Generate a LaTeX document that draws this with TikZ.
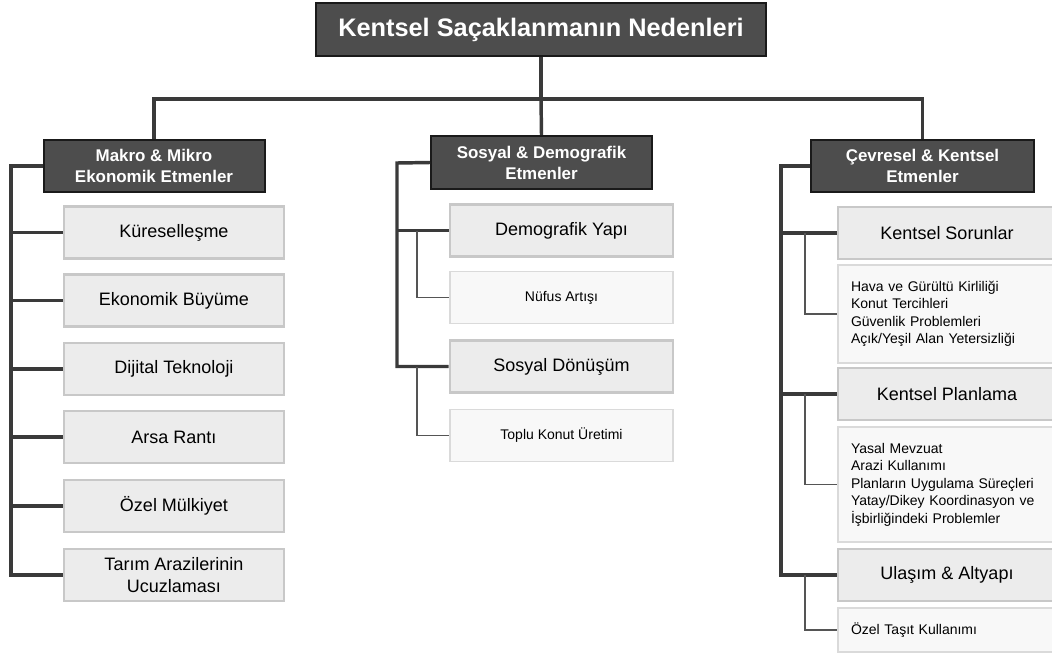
\documentclass[tikz,border=0pt]{standalone}
\usepackage{fontspec}
\setmainfont{Liberation Sans}

\begin{document}
\begin{tikzpicture}[x=0.75pt,y=0.75pt,yscale=-1,xscale=1,
    topbox/.style={draw={rgb, 255:red, 26; green, 26; blue, 26 },line width=1.5pt,fill={rgb, 255:red, 77; green, 77; blue, 77 },text=white,inner sep=0pt,align=center},
    itembox/.style={draw={rgb, 255:red, 200; green, 200; blue, 200 },line width=2.2pt,fill={rgb, 255:red, 236; green, 236; blue, 236 },inner sep=0pt,align=center,font=\fontsize{13.5}{16.5}\selectfont,minimum height=39pt},
    notebox/.style={draw={rgb, 255:red, 218; green, 218; blue, 218 },line width=1pt,fill={rgb, 255:red, 248; green, 248; blue, 248 },inner sep=0pt,align=center,font=\fontsize{10.5}{13.1}\selectfont,minimum height=39pt},
    trunk/.style={draw={rgb, 255:red, 58; green, 58; blue, 58 },line width=2.6pt},
    twig/.style={draw={rgb, 255:red, 85; green, 85; blue, 85 },line width=1pt}]
  \useasboundingbox (0,0) rectangle (1052,653);

  % Title
  \node [topbox,minimum width=337.5pt,minimum height=39.75pt,font=\fontsize{19}{23}\selectfont\bfseries] (title) at (541,29.5) {Kentsel Saçaklanmanın Nedenleri};

  % Group heads
  \node [topbox,minimum width=165.75pt,minimum height=39pt,font=\fontsize{12.7}{15.75}\selectfont\bfseries] (makro) at (154,166) {Makro \& Mikro\\Ekonomik Etmenler};
  \node [topbox,minimum width=165.75pt,minimum height=39.75pt,font=\fontsize{12.7}{15.75}\selectfont\bfseries] (sosyal) at (541.5,162.5) {Sosyal \& Demografik\\Etmenler};
  \node [topbox,minimum width=167.25pt,minimum height=39pt,font=\fontsize{12.7}{15.75}\selectfont\bfseries] (cevre) at (922.5,166) {Çevresel \& Kentsel\\Etmenler};

  % Left column
  \node [itembox,minimum width=165pt] (kures) at (174,232.5) {Küreselleşme};
  \node [itembox,minimum width=165pt] (buyume) at (174,300.5) {Ekonomik Büyüme};
  \node [itembox,minimum width=165pt] (dijital) at (174,369) {Dijital Teknoloji};
  \node [itembox,minimum width=165pt] (arsa) at (174,437) {Arsa Rantı};
  \node [itembox,minimum width=165pt] (mulk) at (174,506) {Özel Mülkiyet};
  \node [itembox,minimum width=165pt] (tarim) at (174,575) {Tarım Arazilerinin\\Ucuzlaması};

  % Middle column
  \node [itembox,minimum width=167.25pt] (demog) at (561.5,230.5) {Demografik Yapı};
  \node [notebox,minimum width=167.25pt] (nufus) at (561.5,297.5) {Nüfus Artışı};
  \node [itembox,minimum width=167.25pt] (donusum) at (561.5,366.5) {Sosyal Dönüşüm};
  \node [notebox,minimum width=167.25pt] (toplu) at (561.5,435.5) {Toplu Konut Üretimi};

  % Right column
  \node [itembox,minimum width=163.5pt] (sorun) at (947,233) {Kentsel Sorunlar};
  \node [notebox,text width=144pt,inner xsep=9.75pt,align=left,minimum height=73.5pt] (sorunlist) at (947,314) {Hava ve Gürültü Kirliliği\\Konut Tercihleri\\Güvenlik Problemleri\\Açık/Yeşil Alan Yetersizliği};
  \node [itembox,minimum width=163.5pt] (planlama) at (947,394) {Kentsel Planlama};
  \node [notebox,text width=144pt,inner xsep=9.75pt,align=left,minimum height=86.25pt] (planlist) at (947,484.5) {Yasal Mevzuat\\Arazi Kullanımı\\Planların Uygulama Süreçleri\\Yatay/Dikey Koordinasyon ve\\İşbirliğindeki Problemler};
  \node [itembox,minimum width=163.5pt] (ulasim) at (947,575) {Ulaşım \& Altyapı};
  \node [notebox,text width=144pt,inner xsep=9.75pt,align=left,minimum height=33pt] (ulasimlist) at (947,630) {Özel Taşıt Kullanımı};

  % Top connectors
  \coordinate (bus) at (541,99);
  \draw [trunk] (title.south) -- (bus);
  \draw [trunk] (makro.north) |- (bus) -| (cevre.north);
  \draw [trunk] (bus) -- (sosyal.north);

  % Left spine
  \coordinate (spineA) at (11,166);
  \draw [trunk] (makro.west) -- (spineA) |- (tarim.west);
  \foreach \n in {kures,buyume,dijital,arsa,mulk}
    \draw [trunk] (\n.west) -- (\n.west -| spineA);

  % Middle spine
  \coordinate (spineB) at (397,163);
  \coordinate (subB) at (417,0);
  \draw [trunk] (sosyal.west) -- (spineB) |- (donusum.west);
  \draw [trunk] (demog.west) -- (demog.west -| spineB);
  \draw [twig] (demog.west -| subB) |- (nufus.west);
  \draw [twig] (donusum.west -| subB) |- (toplu.west);

  % Right spine
  \coordinate (spineC) at (781,166);
  \coordinate (subC) at (805,0);
  \draw [trunk] (cevre.west) -- (spineC) |- (ulasim.west);
  \draw [trunk] (sorun.west) -- (sorun.west -| spineC);
  \draw [trunk] (planlama.west) -- (planlama.west -| spineC);
  \draw [twig] (sorun.west -| subC) |- (sorunlist.west);
  \draw [twig] (planlama.west -| subC) |- (planlist.west);
  \draw [twig] (ulasim.west -| subC) |- (ulasimlist.west);

\end{tikzpicture}
\end{document}
